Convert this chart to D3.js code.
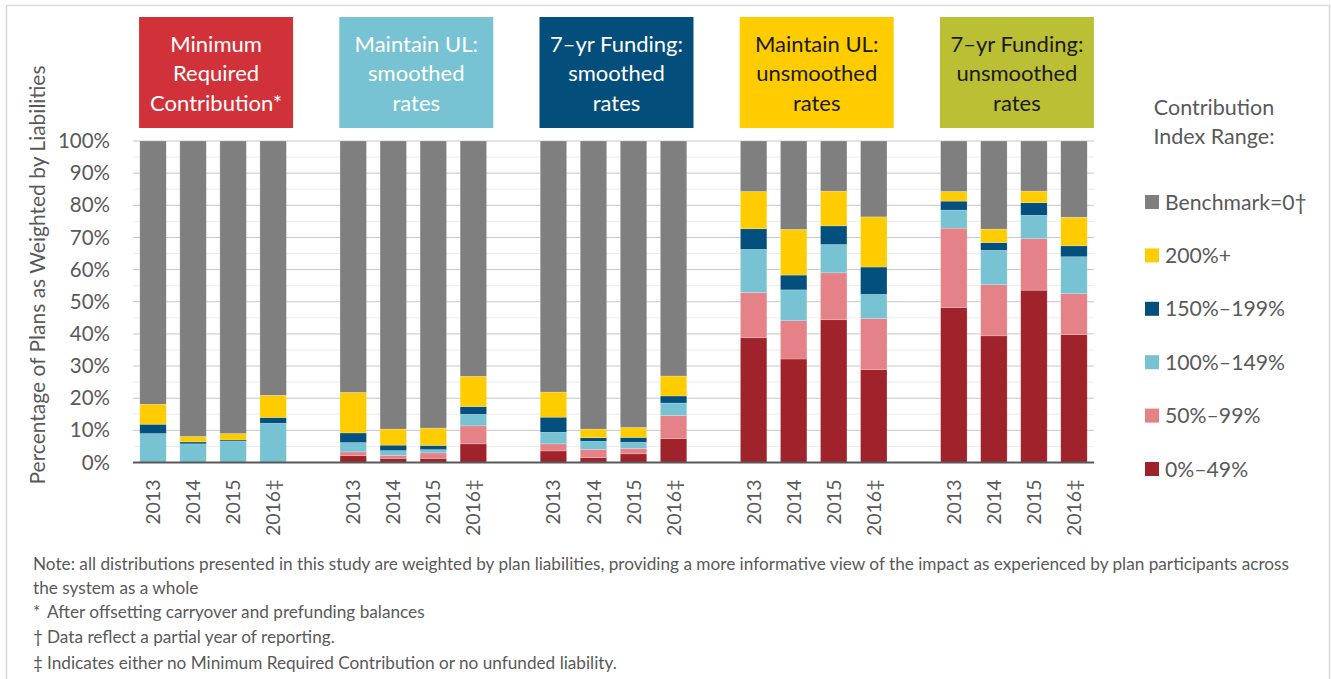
<!DOCTYPE html>
<html>
<head>
<meta charset="utf-8">
<script src="https://cdn.jsdelivr.net/npm/d3@7"></script>
<style>
  html, body { margin: 0; padding: 0; background: #fff; }
  svg { display: block; font-family: Lato, "Open Sans", sans-serif; }
</style>
</head>
<body>
<div id="chart"></div>
<script>
// categories
var years = ["2013", "2014", "2015", "2016‡"];
var groupNames = ["Minimum Required Contribution*", "Maintain UL: smoothed rates", "7–yr Funding: smoothed rates",
  "Maintain UL: unsmoothed rates", "7–yr Funding: unsmoothed rates"];
var groupLines = [["Minimum", "Required", "Contribution*"], ["Maintain UL:", "smoothed", "rates"],
  ["7–yr Funding:", "smoothed", "rates"], ["Maintain UL:", "unsmoothed", "rates"], ["7–yr Funding:", "unsmoothed", "rates"]];
var seriesNames = ["0%–49%", "50%–99%", "100%–149%", "150%–199%", "200%+", "Benchmark=0†"];
var yTicks = [0, 10, 20, 30, 40, 50, 60, 70, 80, 90, 100];

// series values, 4 years per group, groups in order
var r0_49    = [0, 0, 0, 0,          2.1, 1.3, 1.3, 5.8,    3.6, 1.5, 2.7, 7.4,    38.8, 32.2, 44.4, 28.9,  48.2, 39.4, 53.6, 39.8];
var r50_99   = [0, 0, 0, 0,          1.2, 0.9, 1.7, 5.6,    2.2, 2.6, 1.7, 7.2,    14.1, 11.9, 14.6, 15.9,  24.7, 15.9, 16.0, 12.7];
var r100_149 = [9.0, 5.8, 6.6, 12.2, 2.9, 1.5, 1.0, 3.6,    3.6, 2.5, 1.9, 3.9,    13.4, 9.6, 8.8, 7.5,     5.6, 10.7, 7.3, 11.5];
var r150_199 = [2.9, 0.6, 0.4, 1.8,  3.0, 1.7, 1.3, 2.4,    4.7, 1.1, 1.5, 2.2,    6.4, 4.6, 5.8, 8.5,      2.8, 2.4, 3.9, 3.4];
var r200     = [6.2, 1.7, 2.0, 6.9,  12.6, 5.0, 5.4, 9.4,   7.8, 2.7, 3.1, 6.2,    11.6, 14.2, 10.8, 15.6,  3.0, 4.2, 3.6, 8.9];
var bench    = [81.9, 91.9, 91.0, 79.1, 78.2, 89.6, 89.3, 73.2, 78.1, 89.6, 89.1, 73.1, 15.7, 27.5, 15.6, 23.6, 15.7, 27.4, 15.6, 23.7];

var seriesValues = [r0_49, r50_99, r100_149, r150_199, r200, bench];
var seriesColors = ["#A0222A", "#E48287", "#77C3D3", "#034F7D", "#FFCC00", "#7F7F7F"];
var headerColors = ["#D13239", "#77C3D3", "#044E7B", "#FFCC00", "#BBBF33"];
var headerText = ["#ffffff", "#ffffff", "#ffffff", "#1a1a1a", "#1a1a1a"];

var notes = [
  { sym: "", text: "Note: all distributions presented in this study are weighted by plan liabilities, providing a more informative view of the impact as experienced by plan participants across" },
  { sym: "", text: "the system as a whole" },
  { sym: "*", text: "After offsetting carryover and prefunding balances" },
  { sym: "†", text: "Data reflect a partial year of reporting." },
  { sym: "‡", text: "Indicates either no Minimum Required Contribution or no unfunded liability." }
];

var W = 1331, H = 679;
var svg = d3.select("#chart").append("svg").attr("width", W).attr("height", H);
var TXT = "#595959";

// outer frame
svg.append("rect").attr("x", 6.5).attr("y", 5.5).attr("width", 1323).attr("height", 720)
  .attr("fill", "none").attr("stroke", "#d9d9d9").attr("stroke-width", 1.5);

// slots: 4 bars per group with an empty slot between groups
var slots = [], bars = [];
groupNames.forEach(function (g, gi) {
  years.forEach(function (yr, yi) {
    var key = gi + "|" + yr;
    slots.push(key);
    bars.push({ key: key, group: gi, year: yr, idx: gi * 4 + yi });
  });
  if (gi < groupNames.length - 1) slots.push("gap" + gi);
});

var x = d3.scaleBand().domain(slots).range([133, 1094]).paddingInner(0.34).paddingOuter(0.17);
var y = d3.scaleLinear().domain([0, 100]).range([462.5, 141]);

// gridlines (major every 10%, minor every 5%)
var grid = svg.append("g");
d3.range(5, 100, 10).forEach(function (v) {
  grid.append("line").attr("x1", 133).attr("x2", 1094).attr("y1", y(v)).attr("y2", y(v))
    .attr("stroke", "#ececec").attr("stroke-width", 1);
});
yTicks.slice(1).forEach(function (v) {
  grid.append("line").attr("x1", 133).attr("x2", 1094).attr("y1", y(v)).attr("y2", y(v))
    .attr("stroke", "#c6c6c6").attr("stroke-width", 1);
});

// stacked bars
var stackRows = bars.map(function (b) {
  var r = { key: b.key };
  seriesNames.forEach(function (s, si) { r[s] = seriesValues[si][b.idx]; });
  return r;
});
var stacked = d3.stack().keys(seriesNames)(stackRows);
svg.append("g").selectAll("g").data(stacked).join("g")
  .attr("fill", function (d, i) { return seriesColors[i]; })
  .selectAll("rect").data(function (d) { return d; }).join("rect")
  .attr("x", function (d) { return x(d.data.key); })
  .attr("width", x.bandwidth())
  .attr("y", function (d) { return y(d[1]); })
  .attr("height", function (d) { return Math.max(0, y(d[0]) - y(d[1])); })
  .attr("stroke", "rgba(255,255,255,0.35)").attr("stroke-width", 0.6);

// baseline
svg.append("line").attr("x1", 133).attr("x2", 1094).attr("y1", y(0)).attr("y2", y(0))
  .attr("stroke", "#595959").attr("stroke-width", 2);

// y axis
var yAx = svg.append("g").attr("transform", "translate(133,0)")
  .call(d3.axisLeft(y).tickValues(yTicks).tickSize(0).tickPadding(23).tickFormat(function (d) { return d + "%"; }));
yAx.select(".domain").remove();
yAx.selectAll("text").attr("fill", TXT).attr("font-size", 20.5).attr("font-family", "Lato");

// x axis, rotated year labels
var xAx = svg.append("g").attr("transform", "translate(0," + y(0) + ")")
  .call(d3.axisBottom(x).tickValues(bars.map(function (b) { return b.key; })).tickSize(0)
    .tickFormat(function (k) { return k.split("|")[1]; }));
xAx.select(".domain").remove();
xAx.selectAll("text").attr("fill", TXT).attr("font-size", 19.5).attr("font-family", "Lato")
  .attr("transform", "rotate(-90)").attr("x", -17).attr("y", 0).attr("dy", "0.36em")
  .attr("text-anchor", "end");

// y axis title
svg.append("text").attr("transform", "translate(45,275) rotate(-90)").attr("text-anchor", "middle")
  .attr("fill", TXT).attr("font-size", 21).text("Percentage of Plans as Weighted by Liabilities");

// group header boxes
groupNames.forEach(function (g, gi) {
  var x0 = x(gi + "|" + years[0]), x1 = x(gi + "|" + years[3]) + x.bandwidth();
  var cx = (x0 + x1) / 2 + 3, bw = 154;
  svg.append("rect").attr("x", cx - bw / 2).attr("y", 17).attr("width", bw).attr("height", 111)
    .attr("fill", headerColors[gi]);
  groupLines[gi].forEach(function (ln, li) {
    svg.append("text").attr("x", cx).attr("y", 52 + li * 29.3).attr("text-anchor", "middle")
      .attr("fill", headerText[gi]).attr("font-size", 22).text(ln);
  });
});

// legend
svg.append("text").attr("x", 1214).attr("y", 115).attr("text-anchor", "middle").attr("fill", TXT)
  .attr("font-size", 21.5).text("Contribution");
svg.append("text").attr("x", 1214).attr("y", 144).attr("text-anchor", "middle").attr("fill", TXT)
  .attr("font-size", 21.5).text("Index Range:");
var legendOrder = seriesNames.slice().reverse();
var lg = svg.append("g").selectAll("g").data(legendOrder).join("g")
  .attr("transform", function (d, i) { return "translate(1145," + (202 + i * 53.4) + ")"; });
lg.append("rect").attr("x", 0).attr("y", -7).attr("width", 14).attr("height", 14)
  .attr("fill", function (d) { return seriesColors[seriesNames.indexOf(d)]; });
lg.append("text").attr("x", 20).attr("y", 0).attr("dy", "0.36em").attr("fill", TXT)
  .attr("font-size", 21.2).text(function (d) { return d; });

// notes
var noteY = [570, 594, 618, 643, 669];
var symX = { "*": 47, "†": 47, "‡": 47 };
notes.forEach(function (n, i) {
  if (n.sym) {
    svg.append("text").attr("x", 33).attr("y", noteY[i]).attr("fill", TXT).attr("font-size", 17.2).text(n.sym);
  }
  svg.append("text").attr("x", n.sym ? symX[n.sym] : 33).attr("y", noteY[i])
    .attr("fill", TXT).attr("font-size", 17.2).text(n.text);
});
</script>
</body>
</html>
